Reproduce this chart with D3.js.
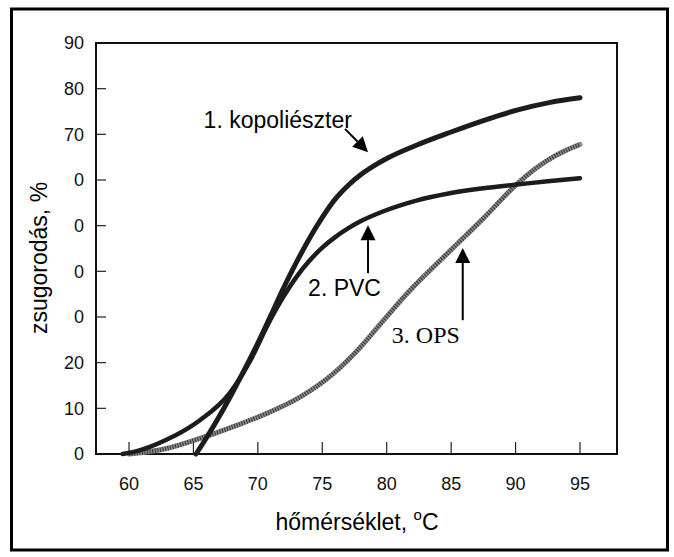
<!DOCTYPE html>
<html>
<head>
<meta charset="utf-8">
<script src="https://cdn.jsdelivr.net/npm/d3@7"></script>
<style>
  html, body { margin: 0; padding: 0; background: #fff; }
  svg { display: block; }
</style>
</head>
<body>
<svg id="chart" width="674" height="557"></svg>
<script>
// ---- data ----
const xTicks = [60, 65, 70, 75, 80, 85, 90, 95];
const yTicks = [0, 10, 20, 30, 40, 50, 60, 70, 80, 90];
const yTickLabels = ["0", "10", "20", "0", "0", "0", "0", "70", "80", "90"];

const kopoliT = [65.2, 66, 67, 68, 69, 70, 71, 72, 73, 74, 75, 76, 77, 78, 79, 80, 82.3, 84.9, 87.5, 90.1, 92.7, 95];
const kopoliV = [0, 3.5, 8.2, 13.3, 18.7, 24.3, 30.3, 36.4, 42, 47.2, 51.8, 55.8, 58.8, 61.2, 63.1, 64.7, 67.6, 70.4, 73, 75.3, 77, 78];

const pvcT = [59.5, 60.3, 62.9, 65.5, 67.8, 69.4, 70.9, 72, 73, 74, 75, 76, 77, 78, 79.7, 82.3, 84.9, 87.5, 90.1, 92.7, 95];
const pvcV = [0, 0.4, 3.1, 7.4, 13.3, 20.4, 29, 34.5, 38.8, 42.3, 45.2, 47.5, 49.4, 51, 53.1, 55.5, 57.1, 58.2, 59, 59.8, 60.4];

const opsT = [60, 62.9, 65.5, 68.1, 70.7, 73.3, 75.9, 77.7, 79.7, 81.6, 84.7, 87.5, 90.1, 91.5, 92.7, 94, 95];
const opsV = [0, 1.2, 3.4, 6.0, 8.9, 12.5, 17.7, 22.6, 29.1, 35.2, 43.9, 51.6, 59.1, 62.4, 64.7, 66.6, 67.8];

const labels = ["1. kopoliészter", "2. PVC", "3. OPS"];
const xTitle = "hőmérséklet, ";
const yTitle = "zsugorodás, %";

// ---- layout ----
const svg = d3.select("#chart");
const frame = { left: 96, right: 617, top: 43, bottom: 454 };
const x = d3.scaleLinear().domain([60, 95]).range([129, 580]);
const y = d3.scaleLinear().domain([0, 90]).range([frame.bottom, frame.top]);

// outer border
svg.append("rect")
  .attr("x", 11.5).attr("y", 9).attr("width", 656).attr("height", 541)
  .attr("fill", "none").attr("stroke", "#000").attr("stroke-width", 3);

// plot frame
svg.append("rect")
  .attr("x", frame.left).attr("y", frame.top)
  .attr("width", frame.right - frame.left).attr("height", frame.bottom - frame.top)
  .attr("fill", "none").attr("stroke", "#111").attr("stroke-width", 2);

// y ticks (inward)
svg.append("g").selectAll("line").data(yTicks.filter(d => d > 0 && d < 90)).join("line")
  .attr("x1", frame.left).attr("x2", frame.left + 10)
  .attr("y1", d => y(d)).attr("y2", d => y(d))
  .attr("stroke", "#222").attr("stroke-width", 1.2);

// x ticks (inward)
svg.append("g").selectAll("line").data(xTicks).join("line")
  .attr("x1", d => x(d)).attr("x2", d => x(d))
  .attr("y1", frame.bottom).attr("y2", frame.bottom - 12)
  .attr("stroke", "#222").attr("stroke-width", 1.2);

const tickFont = "'Liberation Sans', Arial, sans-serif";
svg.append("g").selectAll("text").data(yTicks).join("text")
  .attr("x", 84).attr("y", d => y(d)).attr("dy", "0.36em")
  .attr("text-anchor", "end")
  .attr("font-family", tickFont).attr("font-size", 18).attr("fill", "#111")
  .text((d, i) => yTickLabels[i]);

svg.append("g").selectAll("text").data(xTicks).join("text")
  .attr("x", d => x(d)).attr("y", 490)
  .attr("text-anchor", "middle")
  .attr("font-family", tickFont).attr("font-size", 18).attr("fill", "#111")
  .text(d => d);

// axis titles
const titleFont = "'Liberation Sans', Arial, sans-serif";
const xt = svg.append("text")
  .attr("x", 357).attr("y", 530).attr("text-anchor", "middle")
  .attr("font-family", titleFont).attr("font-size", 23).attr("fill", "#000");
xt.append("tspan").text(xTitle);
xt.append("tspan").attr("font-size", 15).attr("dy", -10).text("o");
xt.append("tspan").attr("dy", 10).text("C");

svg.append("text")
  .attr("transform", "translate(47,258) rotate(-90)")
  .attr("text-anchor", "middle")
  .attr("font-family", titleFont).attr("font-size", 23).attr("fill", "#000")
  .text(yTitle);

// curves
const line = d3.line().x(d => x(d[0])).y(d => y(d[1])).curve(d3.curveMonotoneX);
const zip = (a, b) => a.map((t, i) => [t, b[i]]);

// OPS (grey textured)
const opsPts = zip(opsT, opsV);
svg.append("path").attr("d", line(opsPts))
  .attr("fill", "none").attr("stroke", "#8a8a8a").attr("stroke-width", 5).attr("stroke-linecap", "round");
svg.append("path").attr("d", line(opsPts))
  .attr("fill", "none").attr("stroke", "#333").attr("stroke-width", 4.5)
  .attr("stroke-dasharray", "1,1.6");

svg.append("path").attr("d", line(zip(pvcT, pvcV)))
  .attr("fill", "none").attr("stroke", "#1c1c1c").attr("stroke-width", 4.5).attr("stroke-linecap", "round");
svg.append("path").attr("d", line(zip(kopoliT, kopoliV)))
  .attr("fill", "none").attr("stroke", "#1c1c1c").attr("stroke-width", 5).attr("stroke-linecap", "round");

// annotations (in data units)
function arrow(t0, v0, t1, v1) {
  const x0 = x(t0), y0 = y(v0), x1 = x(t1), y1 = y(v1);
  const ang = Math.atan2(y1 - y0, x1 - x0);
  const L = 15, W = 7.5;
  const bx = x1 - L * Math.cos(ang), by = y1 - L * Math.sin(ang);
  svg.append("line").attr("x1", x0).attr("y1", y0).attr("x2", bx).attr("y2", by)
    .attr("stroke", "#000").attr("stroke-width", 2);
  const px = -Math.sin(ang), py = Math.cos(ang);
  svg.append("path")
    .attr("d", `M${x1},${y1}L${bx + W * px},${by + W * py}L${bx - W * px},${by - W * py}Z`)
    .attr("fill", "#000");
}

svg.append("text").attr("x", x(77.3)).attr("y", y(71.4)).attr("text-anchor", "end")
  .attr("font-family", titleFont).attr("font-size", 23).attr("fill", "#000").text(labels[0]);
arrow(76.76, 71.2, 78.55, 66.1);

svg.append("text").attr("x", x(73.9)).attr("y", y(34.6))
  .attr("font-family", titleFont).attr("font-size", 23).attr("fill", "#000").text(labels[1]);
arrow(78.55, 39.6, 78.55, 50.1);

svg.append("text").attr("x", x(80.4)).attr("y", y(24.3))
  .attr("font-family", "'Liberation Serif', 'Times New Roman', serif").attr("font-size", 24).attr("fill", "#000").text(labels[2]);
arrow(85.9, 29.3, 85.9, 45.1);
</script>
</body>
</html>
